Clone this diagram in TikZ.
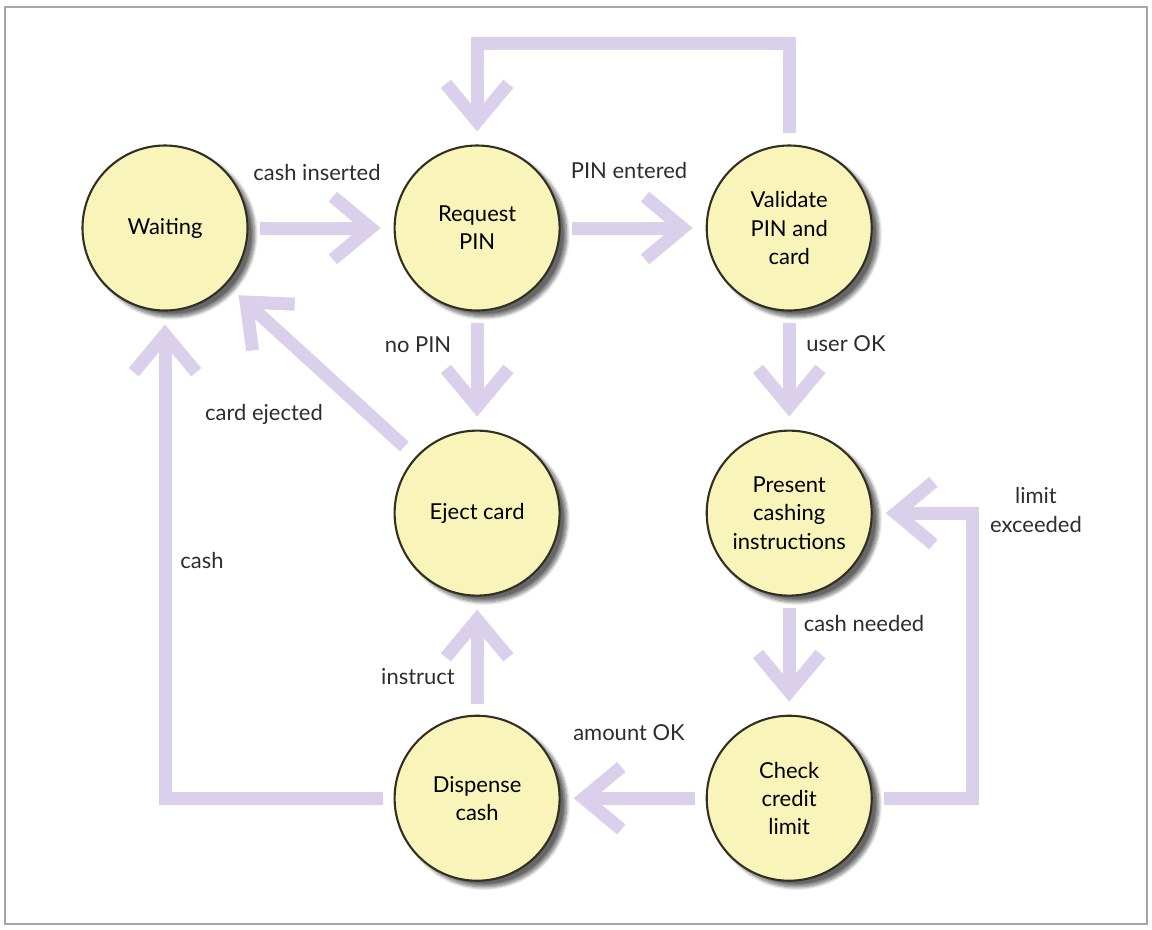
\documentclass[tikz,border=0pt]{standalone}
\usepackage{fontspec}
\setmainfont{Lato}
\usetikzlibrary{arrows.meta, positioning, shadows.blur}

\definecolor{statefill}{RGB}{249,245,186}
\definecolor{stateline}{RGB}{50,48,34}
\definecolor{flowcol}{RGB}{218,208,236}
\definecolor{labelcol}{RGB}{45,45,45}

\tikzstyle{state} = [circle, minimum size=3.3cm, inner sep=0pt, align=center,
                     draw=stateline, line width=1.2pt, fill=statefill, text=black,
                     blur shadow={shadow xshift=4pt, shadow yshift=-3.5pt,
                                  shadow blur steps=10, shadow opacity=60}]
\tikzstyle{flow}  = [draw=flowcol, line width=0.26cm, line join=miter,
                     -{Straight Barb[length=0.75cm, width=1.25cm]},
                     shorten <=0.22cm, shorten >=0.26cm]
\tikzstyle{lbl}   = [text=labelcol, align=center]

\begin{document}
\begin{tikzpicture}[node distance=2.36cm and 2.9cm, font=\fontsize{12.5}{16}\selectfont]
    % page and frame
    \useasboundingbox (0,0) rectangle (23.04,-18.58);
    \draw[gray!70, line width=1.5pt] (0.1,-0.14) rectangle (22.94,-18.48);

    % states
    \node (waiting) [state] at (3.3,-4.56) {Waiting};
    \node (request) [state, right=of waiting] {Request\\PIN};
    \node (validate) [state, right=of request] {Validate\\PIN and\\card};
    \node (eject) [state, below=of request] {Eject card};
    \node (present) [state, below=of validate] {Present\\cashing\\instructions};
    \node (dispense) [state, below=of eject] {Dispense\\cash};
    \node (check) [state, below=of present] {Check\\credit\\limit};

    % transitions
    \draw[flow] (waiting) -- (request);
    \draw[flow] (request) -- (validate);
    \draw[flow] (validate.north) -- ++(0,2.02) -| (request.north);
    \draw[flow] (request) -- (eject);
    \draw[flow] (validate) -- (present);
    \draw[flow, shorten <=0.3cm, shorten >=0.32cm] (eject) -- (waiting);
    \draw[flow] (dispense) -- (eject);
    \draw[flow] (present) -- (check);
    \draw[flow] (check) -- (dispense);
    \draw[flow] (dispense.west) -| (waiting.south);
    \draw[flow] (check.east) -- ++(2.0,0) |- (present.east);

    % transition labels
    \node (lcashin) [lbl] at (6.34,-3.44) {cash inserted};
    \node (lpin) [lbl] at (12.58,-3.40) {PIN entered};
    \node (lnopin) [lbl] at (8.36,-6.90) {no PIN};
    \node (luserok) [lbl] at (16.92,-6.88) {user OK};
    \node (lejected) [lbl] at (5.28,-8.28) {card ejected};
    \node (lcash) [lbl] at (4.04,-11.20) {cash};
    \node (linstruct) [lbl] at (8.36,-13.54) {instruct};
    \node (lamount) [lbl] at (12.58,-14.66) {amount OK};
    \node (lneeded) [lbl] at (17.28,-12.46) {cash needed};
    \node (llimit) [lbl] at (20.72,-10.20) {limit\\exceeded};
\end{tikzpicture}
\end{document}
